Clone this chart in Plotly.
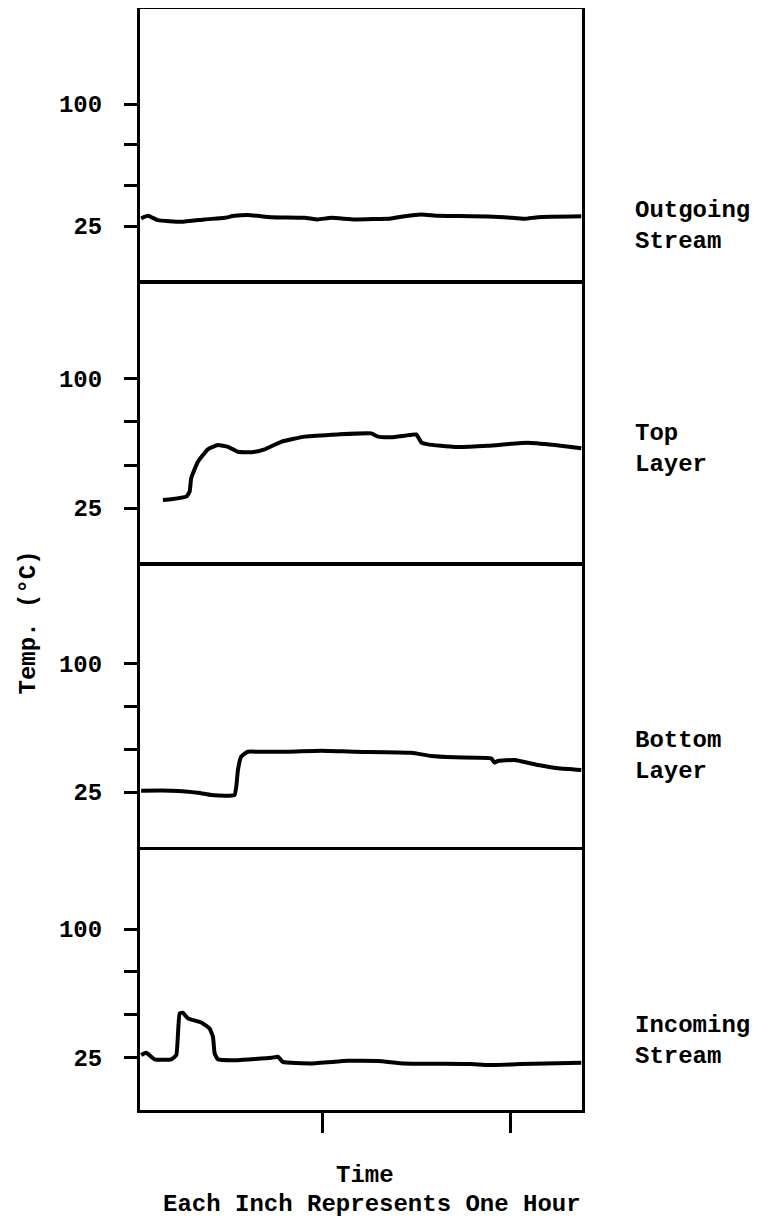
import plotly.graph_objects as go

# ---- data (time in hours, temperature in deg C) ----
out_t = [0.033, 0.069, 0.122, 0.246, 0.371, 0.477, 0.530, 0.601, 0.725, 0.903, 0.973, 1.044,
         1.169, 1.363, 1.435, 1.523, 1.612, 1.789, 1.966, 2.073, 2.144, 2.374]
out_temp = [29.7, 31.3, 28.7, 27.6, 29.1, 30.1, 31.3, 31.8, 30.5, 30.1, 29.1, 30.1,
            29.1, 29.7, 31.1, 32.2, 31.3, 31.1, 30.5, 29.5, 30.5, 31.0]

top_t = [0.149, 0.193, 0.273, 0.291, 0.299, 0.335, 0.388, 0.441, 0.495, 0.548, 0.619, 0.690,
         0.778, 0.903, 1.080, 1.257, 1.293, 1.363, 1.435, 1.496, 1.523, 1.559, 1.701, 1.878,
         2.090, 2.232, 2.374]
top_temp = [29.7, 30.1, 31.6, 34.5, 42.3, 51.9, 59.1, 61.6, 60.6, 57.7, 57.4, 59.1,
            63.5, 66.5, 67.8, 68.4, 66.5, 66.1, 67.0, 67.8, 63.2, 62.0, 60.5, 61.2,
            63.0, 61.6, 59.7]

bot_t = [0.033, 0.193, 0.335, 0.406, 0.504, 0.530, 0.539, 0.548, 0.565, 0.601, 0.654, 0.814,
         0.991, 1.169, 1.470, 1.576, 1.701, 1.895, 1.913, 1.931, 2.020, 2.144, 2.250, 2.374]
bot_temp = [25.8, 25.8, 24.6, 23.2, 22.8, 23.2, 28.1, 37.9, 45.7, 48.6, 48.6, 48.6,
            49.2, 48.6, 48.0, 46.1, 45.3, 44.7, 42.2, 43.2, 43.7, 40.8, 38.9, 37.9]

in_t = [0.033, 0.060, 0.105, 0.193, 0.220, 0.238, 0.255, 0.282, 0.353, 0.397, 0.415, 0.424,
        0.441, 0.548, 0.725, 0.761, 0.787, 0.938, 1.133, 1.293, 1.435, 1.789, 1.878, 2.055,
        2.374]
in_temp = [26.2, 27.5, 23.7, 23.7, 26.2, 50.6, 51.0, 47.7, 45.3, 41.8, 36.9, 27.2,
           23.7, 23.2, 24.6, 25.2, 22.2, 21.3, 22.8, 22.7, 21.3, 20.9, 20.3, 20.9,
           21.7]

panel_labels = ["Outgoing<br>Stream", "Top<br>Layer", "Bottom<br>Layer", "Incoming<br>Stream"]
ytick_vals = [25, 50, 75, 100]
ytick_text = ["25", "", "", "100"]
xtick_vals = [1, 2]
y_title = "Temp. (°C)"
x_title = "Time"
x_subtitle = "Each Inch Represents One Hour"

# ---- figure ----
FONT = "Liberation Mono, Courier New, monospace"
series = [(out_t, out_temp), (top_t, top_temp), (bot_t, bot_temp), (in_t, in_temp)]
domains = [[0.7502, 1.0], [0.4941, 0.7502], [0.2361, 0.4941], [0.0, 0.2361]]
ranges = [[-10.6, 158.4], [-8.7, 155.2], [-9.0, 157.4], [-6.0, 146.3]]
label_y = [0.803, 0.600, 0.3215, 0.0627]

fig = go.Figure()
layout = {}
for i, (tx, ty) in enumerate(series):
    k = "" if i == 0 else str(i + 1)
    fig.add_trace(go.Scatter(x=tx, y=ty, xaxis="x" + k, yaxis="y" + k, mode="lines",
                             line=dict(color="black", width=4, shape="spline", smoothing=0.4),
                             showlegend=False, hoverinfo="skip"))
    last = (i == len(series) - 1)
    layout["xaxis" + k] = dict(
        domain=[0, 1], range=[0.027, 2.378], anchor="y" + k,
        side="bottom" if last else "top",
        showline=True, mirror=last, linecolor="black", linewidth=3 if last else 3.5,
        showgrid=False, zeroline=False, showticklabels=False,
        tickvals=xtick_vals if last else [], ticks="outside" if last else "",
        ticklen=20, tickwidth=3, tickcolor="black")
    layout["yaxis" + k] = dict(
        domain=domains[i], range=ranges[i], anchor="x" + k,
        showline=True, mirror=True, linecolor="black", linewidth=3,
        showgrid=False, zeroline=False,
        tickvals=ytick_vals, ticktext=ytick_text, ticks="outside",
        ticklen=13, tickwidth=3, tickcolor="black", ticklabelstandoff=17,
        tickfont=dict(family=FONT, size=24, color="black", weight="bold"))

annotations = []
for lab, yy in zip(panel_labels, label_y):
    annotations.append(dict(text=lab, xref="paper", yref="paper", x=1.115, y=yy,
                            xanchor="left", yanchor="middle", align="left", showarrow=False,
                            font=dict(family=FONT, size=24, color="black", weight="bold")))
annotations.append(dict(text=y_title, xref="paper", yref="paper", x=-0.253, y=0.443,
                        textangle=-90, xanchor="center", yanchor="middle", showarrow=False,
                        font=dict(family=FONT, size=24, color="black", weight="bold")))
annotations.append(dict(text=x_title, xref="paper", yref="paper", x=0.509, y=-0.0599,
                        xanchor="center", yanchor="middle", showarrow=False,
                        font=dict(family=FONT, size=24, color="black", weight="bold")))
annotations.append(dict(text=x_subtitle, xref="paper", yref="paper", x=0.525, y=-0.0854,
                        xanchor="center", yanchor="middle", showarrow=False,
                        font=dict(family=FONT, size=24, color="black", weight="bold")))

fig.update_layout(**layout)
# the page body has an 8px default margin, so the figure is sized to fit inside it
fig.update_layout(width=756, height=1216, margin=dict(l=132, r=182, t=1, b=114),
                  paper_bgcolor="white", plot_bgcolor="white", annotations=annotations,
                  showlegend=False)
fig.write_html("out.html")
